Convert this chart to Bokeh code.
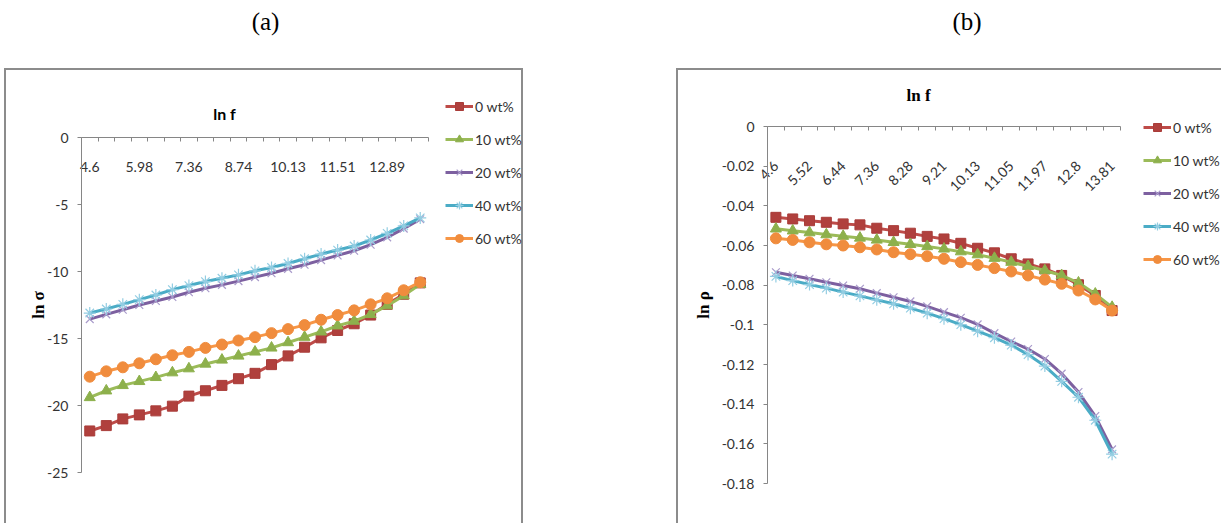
import math

from bokeh.embed import file_html
from bokeh.layouts import column, row
from bokeh.models import (Div, FixedTicker, Label, Legend, LegendItem,
                          NumeralTickFormatter, Range1d, Spacer)
from bokeh.plotting import figure
from bokeh.resources import INLINE

# ln f categories (5 points per decade, 100 Hz .. 1 MHz)
lnf_a = ["4.6", "5.06", "5.52", "5.98", "6.44", "6.9", "7.36", "7.82", "8.28",
         "8.74", "9.21", "9.67", "10.13", "10.59", "11.05", "11.51", "11.97",
         "12.43", "12.89", "13.35", "13.81"]
lnf_b = ["4.6", "5.06", "5.52", "5.98", "6.44", "6.9", "7.36", "7.82", "8.28",
         "8.74", "9.21", "9.67", "10.13", "10.59", "11.05", "11.51", "11.97",
         "12.43", "12.8", "13.35", "13.81"]

series_names = ["0 wt%", "10 wt%", "20 wt%", "40 wt%", "60 wt%"]

# (a) ln sigma
sigma_0 = [-21.9, -21.5, -21.0, -20.7, -20.4, -20.05, -19.3, -18.9, -18.5, -18.0,
           -17.6, -16.95, -16.3, -15.65, -14.95, -14.4, -13.9, -13.25, -12.45,
           -11.7, -10.85]
sigma_10 = [-19.4, -18.9, -18.5, -18.2, -17.9, -17.55, -17.25, -16.9, -16.6, -16.3,
            -16.0, -15.7, -15.3, -14.9, -14.5, -14.05, -13.7, -13.2, -12.55,
            -11.8, -10.95]
sigma_20 = [-13.55, -13.2, -12.85, -12.5, -12.2, -11.9, -11.55, -11.25, -11.0,
            -10.72, -10.42, -10.13, -9.8, -9.5, -9.15, -8.8, -8.45, -8.0, -7.45,
            -6.8, -6.1]
sigma_40 = [-13.1, -12.8, -12.45, -12.1, -11.75, -11.35, -11.05, -10.75, -10.5,
            -10.25, -9.95, -9.7, -9.4, -9.05, -8.7, -8.4, -8.1, -7.65, -7.15,
            -6.6, -6.0]
sigma_60 = [-17.85, -17.45, -17.15, -16.85, -16.55, -16.25, -16.0, -15.7, -15.45,
            -15.15, -14.9, -14.6, -14.3, -14.0, -13.6, -13.25, -12.9, -12.45,
            -12.0, -11.4, -10.8]

# (b) ln rho
rho_0 = [-0.0458, -0.0466, -0.0475, -0.0483, -0.0491, -0.0496, -0.0513, -0.0525,
         -0.0538, -0.0554, -0.0567, -0.0589, -0.0614, -0.0637, -0.0667, -0.0693,
         -0.0718, -0.0751, -0.0798, -0.0852, -0.0928]
rho_10 = [-0.0516, -0.0526, -0.0535, -0.0545, -0.0553, -0.0562, -0.0572, -0.0584,
          -0.0594, -0.0605, -0.0617, -0.0631, -0.0646, -0.0664, -0.0684, -0.0705,
          -0.0726, -0.0751, -0.0788, -0.0844, -0.0911]
rho_20 = [-0.0735, -0.0751, -0.0768, -0.0785, -0.0802, -0.0818, -0.0840, -0.0861,
          -0.0882, -0.0907, -0.0936, -0.0964, -0.0998, -0.1042, -0.1084, -0.1122,
          -0.1172, -0.1246, -0.1339, -0.1460, -0.1628]
rho_40 = [-0.0756, -0.0777, -0.0797, -0.0815, -0.0835, -0.0854, -0.0874, -0.0894,
          -0.0916, -0.0941, -0.0969, -0.0999, -0.1032, -0.1065, -0.1102, -0.1150,
          -0.1208, -0.1285, -0.1365, -0.1481, -0.1652]
rho_60 = [-0.0564, -0.0572, -0.0584, -0.0594, -0.0600, -0.0609, -0.0620, -0.0634,
          -0.0644, -0.0654, -0.0667, -0.0684, -0.0698, -0.0714, -0.0731, -0.0751,
          -0.0772, -0.0793, -0.0827, -0.0872, -0.0928]

sigma_ticks = [0, -5, -10, -15, -20, -25]
rho_ticks = [0, -0.02, -0.04, -0.06, -0.08, -0.1, -0.12, -0.14, -0.16, -0.18]

# series styling: line colour, marker, marker fill, marker line, marker size
STYLES = [
    ("#BE4B48", "square", "#B0403D", "#A93C39", 10),
    ("#9BBB59", "triangle", "#8DB04C", "#8DB04C", 11),
    ("#7D60A0", "x", None, "#A99BCB", 11),
    ("#4BACC6", "asterisk", None, "#93CDE2", 12),
    ("#F79646", "circle", "#F08C3D", "#F08C3D", 11),
]

AXIS_GREY = "#868686"
TICK_FONT = "Lato"
BORDER = "2px solid #8c8c8c"


def make_panel(cats, values, yticks, label_step, y_label, y_label_standoff,
               x_title, title_font, title_pos, plot_box, legend_loc,
               box_styles, rotate):
    """plot_box = (pad_left, plot_width, pad_right, pad_top, plot_height, pad_bottom)
    in pixels; the chart-area box is the whole canvas and the category/value
    span occupies plot_width x plot_height inside it."""
    pad_l, plot_w, pad_r, pad_t, plot_h, pad_b = plot_box
    n = len(cats)
    xs = list(range(n))
    ymin, ymax = min(yticks), max(yticks)
    cat_px = plot_w / n
    val_per_px = (ymax - ymin) / plot_h

    p = figure(width=pad_l + plot_w + pad_r, height=pad_t + plot_h + pad_b,
               x_range=Range1d(-0.5 - pad_l / cat_px, n - 0.5 + pad_r / cat_px),
               y_range=Range1d(ymin - pad_b * val_per_px, ymax + pad_t * val_per_px),
               output_backend="svg", toolbar_location=None, min_border=0)
    p.styles = box_styles
    p.outline_line_color = None
    p.background_fill_color = "white"
    p.border_fill_color = "white"
    p.xgrid.visible = False
    p.ygrid.visible = False

    # category axis crossing at y = 0 (top of the value range)
    xa = p.xaxis[0]
    xa.fixed_location = ymax
    xa.bounds = (-0.5, n - 0.5)
    xa.ticker = FixedTicker(ticks=xs[::label_step],
                            minor_ticks=[i - 0.5 for i in range(n + 1)])
    xa.major_label_overrides = {i: cats[i] for i in xs[::label_step]}
    xa.major_tick_out = 0
    xa.major_tick_in = 0
    xa.minor_tick_out = 4
    xa.minor_tick_in = 0
    xa.minor_tick_line_color = AXIS_GREY
    xa.axis_line_color = AXIS_GREY
    xa.major_label_text_font = TICK_FONT
    xa.major_label_text_font_size = "14px"
    xa.major_label_text_color = "#333333"
    if rotate:
        xa.major_label_orientation = math.pi / 4
        xa.major_label_standoff = 33
    else:
        xa.major_label_standoff = 20

    # value axis at the first category boundary
    ya = p.yaxis[0]
    ya.fixed_location = -0.5
    ya.bounds = (ymin, ymax)
    ya.ticker = FixedTicker(ticks=yticks)
    ya.formatter = NumeralTickFormatter(format="0.[00]")
    ya.major_tick_out = 4
    ya.major_tick_in = 0
    ya.minor_tick_out = 0
    ya.minor_tick_in = 0
    ya.major_tick_line_color = AXIS_GREY
    ya.axis_line_color = AXIS_GREY
    ya.major_label_text_font = TICK_FONT
    ya.major_label_text_font_size = "14px"
    ya.major_label_text_color = "#333333"
    ya.major_label_standoff = 9
    ya.axis_label = y_label
    ya.axis_label_text_font = "Liberation Serif"
    ya.axis_label_text_font_size = "17px"
    ya.axis_label_text_font_style = "bold"
    ya.axis_label_text_color = "#000000"
    ya.axis_label_standoff = y_label_standoff

    # horizontal axis title above the category axis
    p.add_layout(Label(x=title_pos[0], y=title_pos[1], x_units="screen",
                       y_units="screen", text=x_title, text_align="center",
                       text_baseline="middle", text_font=title_font[0],
                       text_font_size=title_font[1], text_font_style="bold",
                       text_color="#000000"))

    items = []
    for name, ys, (lc, marker, mfill, mline, msize) in zip(series_names, values, STYLES):
        ln = p.line(xs, ys, line_color=lc, line_width=3)
        if mfill is None:
            mk = p.scatter(xs, ys, marker=marker, size=msize, fill_color=None,
                           line_color=mline, line_width=1.2)
        else:
            mk = p.scatter(xs, ys, marker=marker, size=msize, fill_color=mfill,
                           line_color=mline, line_width=1)
        items.append(LegendItem(label=name, renderers=[ln, mk]))

    legend = Legend(items=items, location=legend_loc, padding=0, margin=0,
                    spacing=13, glyph_width=28, glyph_height=20,
                    label_height=20, label_standoff=2,
                    label_text_font=TICK_FONT, label_text_font_size="14px",
                    label_text_color="#333333", border_line_color=None,
                    background_fill_alpha=0)
    p.add_layout(legend)
    return p


fig_a = make_panel(lnf_a, [sigma_0, sigma_10, sigma_20, sigma_40, sigma_60],
                   sigma_ticks, 3, "ln σ", -4,
                   "ln f", ("Lato", "16px"), (218, 412),
                   plot_box=(75, 347, 97, 67, 335, 53),
                   legend_loc=(439, 277),
                   box_styles={"border-top": BORDER, "border-left": BORDER,
                               "border-right": BORDER},
                   rotate=False)

fig_b = make_panel(lnf_b, [rho_0, rho_10, rho_20, rho_40, rho_60],
                   rho_ticks, 2, "ln ρ", 6,
                   "ln f", ("Liberation Serif", "17px"), (240, 430),
                   plot_box=(89, 353, 103, 56, 357, 42),
                   legend_loc=(465, 256),
                   box_styles={"border-top": BORDER, "border-left": BORDER},
                   rotate=True)

HEAD = ("box-sizing:border-box;width:{w}px;padding-left:{pl}px;padding-top:7px;"
        "text-align:center;font-family:'Liberation Serif';font-size:25px;"
        "line-height:29px;color:#000")
div_a = Div(text='<div style="%s">(a)</div>' % HEAD.format(w=523, pl=0),
            width=523, height=68, margin=0)
div_b = Div(text='<div style="%s">(b)</div>' % HEAD.format(w=549, pl=33),
            width=549, height=68, margin=0)

page = row(Spacer(width=4), column(div_a, fig_a), Spacer(width=149),
           column(div_b, fig_b))

open("out.html", "w").write(file_html(page, INLINE))
